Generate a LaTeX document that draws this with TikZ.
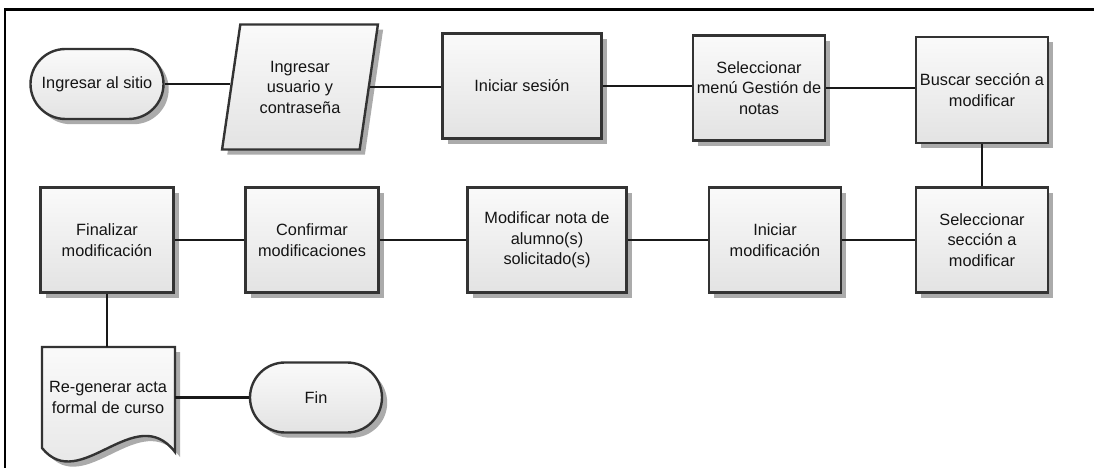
\documentclass[tikz,border=0pt]{standalone}
\usepackage{fontspec}
\setmainfont{Liberation Sans}
\usepackage{tikz}
\usetikzlibrary{shapes.geometric}
\usetikzlibrary{shadows}

\tikzset{
  sombra/.style={drop shadow={shadow xshift=0.13cm, shadow yshift=-0.13cm, fill=black!33, opacity=1}},
  texto/.style={text=black!92, align=center, font=\fontsize{11.6}{14.6}\selectfont},
  caja/.style={draw=black!80, line width=1.7pt, top color=gray!4, bottom color=gray!22, sombra, texto, inner sep=1pt},
  proceso/.style={caja, rectangle, minimum width=3.3cm, minimum height=2.625cm},
  terminal/.style={caja, rectangle, rounded corners=0.875cm, minimum width=3.3cm, minimum height=1.75cm},
  datos/.style={caja, trapezium, trapezium left angle=77, trapezium right angle=103, trapezium stretches=true, minimum width=3.925cm, minimum height=3.125cm},
  linea/.style={line width=1.5pt, black!90}
}

\begin{document}
\begin{tikzpicture}
                \useasboundingbox (0,0) rectangle (27.35,-11.7);
                % Marco
                \draw[line width=2pt] (0.125,-11.7) -- (0.125,-0.24) -- (27.35,-0.24);

                % Fila 1
                \node[terminal, minimum width=3.325cm] (inicio) at (2.425,-2.1) {Ingresar al sitio};
                \node[datos] (login) at (7.5,-2.175) {Ingresar\\usuario y\\contraseña};
                \node[proceso, minimum width=3.975cm] (sesion) at (13.05,-2.15) {Iniciar sesión};
                \node[proceso] (menu) at (18.975,-2.2) {Seleccionar\\menú Gestión de\\notas};
                \node[proceso, minimum height=2.65cm] (buscar) at (24.55,-2.25) {Buscar sección a\\modificar};

                % Fila 2
                \node[proceso, minimum width=3.325cm] (finalizar) at (2.675,-6.0) {Finalizar\\modificación};
                \node[proceso, minimum width=3.325cm] (confirmar) at (7.8,-6.0) {Confirmar\\modificaciones};
                \node[proceso, minimum width=3.975cm] (modificar) at (13.675,-6.0) {Modificar nota de\\alumno(s)\\solicitado(s)};
                \node[proceso] (iniciarmod) at (19.375,-6.0) {Iniciar\\modificación};
                \node[proceso] (seleccion) at (24.55,-6.0) {Seleccionar\\sección a\\modificar};

                % Fila 3: documento y fin
                \draw[caja] (1.05,-8.675) -- (4.375,-8.675) -- (4.375,-11.3) .. controls (3.375,-10.0) and (2.0,-12.375) .. (1.05,-11.2) -- cycle;
                \node[texto, minimum width=3.325cm, minimum height=2.525cm] (regen) at (2.7,-9.9375) {Re-generar acta\\formal de curso};
                \node[terminal] (fin) at (7.9,-9.9375) {Fin};

                % Conectores
                \draw[linea] (inicio.east) -- (inicio.east -| login.left side);
                \draw[linea] (login.right side) -- (login.right side -| sesion.west);
                \draw[linea] (sesion.east) -- (sesion.east -| menu.west);
                \draw[linea] (menu.east) -- (menu.east -| buscar.west);
                \draw[linea] (buscar) -- (seleccion);
                \draw[linea] (seleccion) -- (iniciarmod);
                \draw[linea] (iniciarmod) -- (modificar);
                \draw[linea] (modificar) -- (confirmar);
                \draw[linea] (confirmar) -- (finalizar);
                \draw[linea] (finalizar.south) -- (finalizar.south |- regen.north);
                \draw[linea] (regen.east) -- (fin);
\end{tikzpicture}
\end{document}
